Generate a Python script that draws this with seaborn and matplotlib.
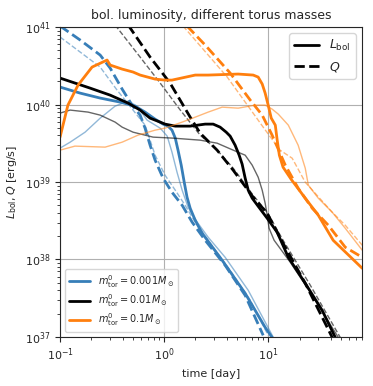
import numpy as np
import pandas as pd
import seaborn as sns
import matplotlib
matplotlib.use("Agg")
import matplotlib.pyplot as plt
from matplotlib.lines import Line2D

# time [day] and log10(L [erg/s])
# m_tor = 0.001 Msun
bl_L_t = [0.1, 0.156, 0.243, 0.378, 0.526, 0.656, 0.819, 0.978, 1.09, 1.19, 1.28, 1.36, 1.46, 1.56, 1.66, 1.78, 1.99, 2.32, 3.61, 6.01, 9.35, 10.9]
bl_L_y = [40.225, 40.147, 40.083, 40.031, 39.979, 39.902, 39.811, 39.747, 39.721, 39.669, 39.566, 39.411, 39.217, 38.997, 38.804, 38.661, 38.506, 38.339, 37.990, 37.563, 37.124, 36.995]
bl_L2_t = [0.1, 0.125, 0.174, 0.243, 0.338, 0.451, 0.549, 0.687, 0.916, 1.07, 1.19, 1.33, 1.49, 1.70, 2.08, 2.65, 3.86, 6.43, 11.2]
bl_L2_y = [39.437, 39.514, 39.643, 39.824, 39.979, 40.044, 39.979, 39.798, 39.695, 39.592, 39.385, 39.127, 38.894, 38.674, 38.481, 38.287, 38.028, 37.602, 36.995]
bl_Q_t = [0.1, 0.156, 0.243, 0.303, 0.395, 0.492, 0.588, 0.656, 0.733, 0.819, 0.978, 1.19, 1.49, 1.86, 2.48, 3.86, 6.01, 8.95]
bl_Q_y = [41.013, 40.832, 40.638, 40.470, 40.199, 39.992, 39.863, 39.695, 39.475, 39.282, 39.049, 38.868, 38.700, 38.481, 38.248, 37.925, 37.537, 37.021]
bl_Q2_t = [0.1, 0.156, 0.243, 0.353, 0.503, 0.656, 0.819, 1.02, 1.28, 1.59, 1.99, 2.77, 4.31, 6.72, 10.0]
bl_Q2_y = [40.871, 40.677, 40.483, 40.186, 39.928, 39.734, 39.346, 39.088, 38.894, 38.700, 38.481, 38.209, 37.860, 37.473, 37.021]

# m_tor = 0.01 Msun
bk_L_t = [0.1, 0.194, 0.303, 0.451, 0.588, 0.733, 0.916, 1.02, 1.28, 1.78, 2.48, 2.96, 3.45, 3.95, 4.31, 4.81, 5.26, 5.62, 6.01, 6.43, 7.02, 8.01, 9.78, 12.2, 15.6, 22.7, 33.0, 44.1]
bk_L_y = [40.341, 40.212, 40.121, 40.018, 39.928, 39.824, 39.773, 39.747, 39.721, 39.721, 39.747, 39.747, 39.708, 39.643, 39.592, 39.475, 39.346, 39.230, 39.049, 38.894, 38.791, 38.687, 38.532, 38.351, 38.028, 37.693, 37.344, 36.995]
bk_L2_t = [0.1, 0.125, 0.186, 0.243, 0.338, 0.395, 0.503, 0.783, 1.22, 2.22, 3.23, 4.61, 6.01, 7.02, 8.01, 8.76, 9.35, 9.78, 10.2, 11.4, 16.3, 25.4, 47.1]
bk_L2_y = [39.889, 39.928, 39.902, 39.863, 39.773, 39.708, 39.643, 39.579, 39.566, 39.540, 39.501, 39.411, 39.346, 39.217, 39.062, 38.894, 38.726, 38.571, 38.403, 38.248, 37.964, 37.576, 36.995]
bk_Q_t = [0.451, 0.733, 1.14, 1.78, 2.22, 3.23, 4.61, 7.17, 9.78, 13.9, 22.7, 41.2]
bk_Q_y = [41.026, 40.612, 40.277, 39.837, 39.630, 39.411, 39.152, 38.804, 38.597, 38.209, 37.693, 36.995]
bk_Q2_t = [0.338, 0.588, 0.916, 1.43, 2.22, 3.23, 4.61, 7.17, 9.78, 13.9, 25.4, 49.2]
bk_Q2_y = [41.026, 40.612, 40.277, 39.928, 39.605, 39.411, 39.178, 38.829, 38.610, 38.248, 37.667, 36.995]

# m_tor = 0.1 Msun
or_L_t = [0.1, 0.119, 0.149, 0.203, 0.283, 0.303, 0.395, 0.503, 0.588, 0.819, 1.02, 1.19, 1.99, 2.65, 5.15, 7.17, 8.01, 8.76, 9.35, 10.0, 10.7, 11.7, 12.2, 12.8, 13.9, 16.6, 22.7, 30.3, 42.1, 80.2]
or_L_y = [39.579, 39.992, 40.251, 40.483, 40.574, 40.509, 40.457, 40.419, 40.380, 40.328, 40.315, 40.315, 40.380, 40.380, 40.393, 40.380, 40.354, 40.264, 40.147, 39.992, 39.824, 39.734, 39.540, 39.346, 39.191, 39.036, 38.791, 38.571, 38.248, 37.886]
or_L2_t = [0.1, 0.139, 0.271, 0.395, 0.562, 0.819, 1.02, 1.49, 1.99, 2.65, 3.61, 5.15, 7.50, 9.35, 10.9, 12.5, 15.6, 19.4, 21.2, 22.7, 24.3, 30.3, 41.2, 55.0, 80.2]
or_L2_y = [39.411, 39.463, 39.450, 39.514, 39.605, 39.669, 39.695, 39.773, 39.837, 39.902, 39.966, 39.953, 39.992, 39.992, 39.941, 39.876, 39.734, 39.475, 39.307, 39.178, 38.959, 38.791, 38.610, 38.403, 38.119]
or_Q_t = [1.66, 2.48, 4.31, 6.72, 8.76, 10.9, 14.6, 19.4, 26.5, 37.8, 55.0, 80.2]
or_Q_y = [41.013, 40.767, 40.406, 40.057, 39.863, 39.605, 39.217, 38.920, 38.661, 38.442, 38.158, 38.028]
or_Q2_t = [1.52, 4.04, 8.95, 13.0, 17.0, 22.7, 41.2, 55.0, 80.2]
or_Q2_y = [41.013, 40.354, 39.708, 39.411, 39.307, 38.997, 38.610, 38.442, 38.183]

masses = ["0.001", "0.01", "0.1"]
colors = ["#377eb8", "black", "#ff7f0e"]

curves = [
    (bl_L_t, bl_L_y, bl_L2_t, bl_L2_y, bl_Q_t, bl_Q_y, bl_Q2_t, bl_Q2_y),
    (bk_L_t, bk_L_y, bk_L2_t, bk_L2_y, bk_Q_t, bk_Q_y, bk_Q2_t, bk_Q2_y),
    (or_L_t, or_L_y, or_L2_t, or_L2_y, or_Q_t, or_Q_y, or_Q2_t, or_Q2_y),
]

sns.set_style("ticks")
plt.rcParams['font.family'] = ['DejaVu Sans']
plt.rcParams['font.size'] = 8

fig = plt.figure(figsize=(3.73, 3.86), dpi=100)
ax = fig.add_axes([0.161, 0.127, 0.81, 0.803])

for col, c in zip(colors, curves):
    Lt, Ly, L2t, L2y, Qt, Qy, Q2t, Q2y = c
    thin_alpha = 0.6 if col == "black" else 0.55
    sns.lineplot(x=L2t, y=10**np.array(L2y), ax=ax, color=col, lw=1.0, alpha=thin_alpha, sort=False, estimator=None)
    sns.lineplot(x=Q2t, y=10**np.array(Q2y), ax=ax, color=col, lw=1.0, alpha=thin_alpha, ls="--", sort=False, estimator=None)
    sns.lineplot(x=Lt, y=10**np.array(Ly), ax=ax, color=col, lw=2.0, sort=False, estimator=None)
    sns.lineplot(x=Qt, y=10**np.array(Qy), ax=ax, color=col, lw=2.0, ls="--", sort=False, estimator=None)

ax.set_xscale("log")
ax.set_yscale("log")
ax.set_xlim(0.1, 80)
ax.set_ylim(1e37, 1e41)
ax.grid(True, which="major", color="#b0b0b0", lw=0.8)
ax.set_xlabel("time [day]")
ax.set_ylabel(r"$L_{\rm bol}, Q$ [erg/s]")
ax.set_title("bol. luminosity, different torus masses", fontsize=9)

h1 = [Line2D([], [], color=col, lw=2) for col in colors]
lab1 = [r"$m_{\rm tor}^0 = %s M_\odot$" % m for m in masses]
leg1 = ax.legend(h1, lab1, loc="lower left", fontsize=7, labelspacing=0.25, handlelength=2.2)
ax.add_artist(leg1)
h2 = [Line2D([], [], color="black", lw=2), Line2D([], [], color="black", lw=2, ls="--")]
ax.legend(h2, [r"$L_{\rm bol}$", r"$Q$"], loc="upper right", fontsize=9)

fig.savefig("out.png", dpi=100)
